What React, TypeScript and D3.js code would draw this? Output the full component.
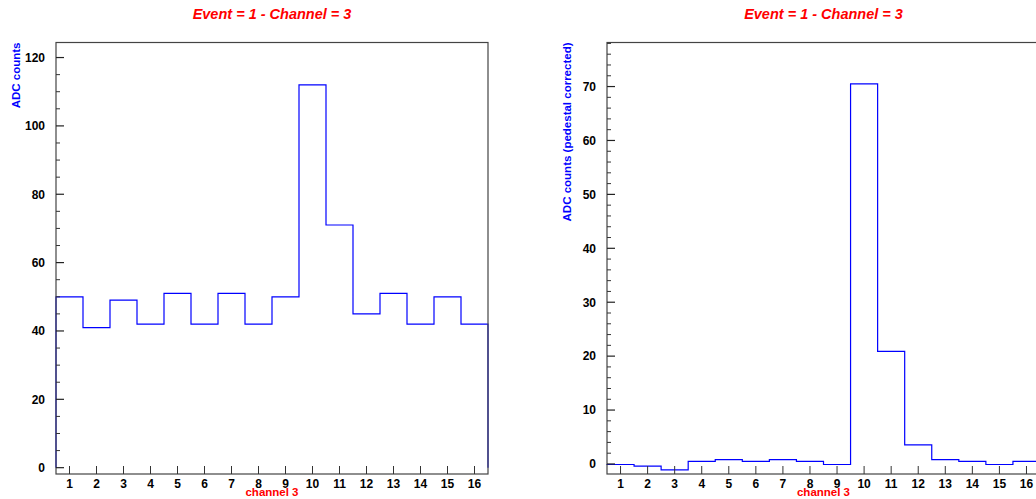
import React from "react";
import * as d3 from "d3";

const channels = [1, 2, 3, 4, 5, 6, 7, 8, 9, 10, 11, 12, 13, 14, 15, 16];
const adcCounts = [50, 41, 49, 42, 51, 42, 51, 42, 50, 112, 71, 45, 51, 42, 50, 42];
const pedCorrected = [-0.1, -0.4, -1.1, 0.5, 0.8, 0.5, 0.8, 0.5, -0.1, 70.5, 20.9, 3.55, 0.8, 0.5, -0.1, 0.5];
const leftYTicks = [0, 20, 40, 60, 80, 100, 120];
const rightYTicks = [0, 10, 20, 30, 40, 50, 60, 70];
const titleText = "Event = 1 - Channel = 3";
const xTitle = "channel 3";
const leftYTitle = "ADC counts";
const rightYTitle = "ADC counts (pedestal corrected)";

const FONT = "'Liberation Sans', Arial, Helvetica, sans-serif";

type PanelProps = {
  x0: number;
  x1: number;
  yTop: number;
  yBottom: number;
  yDomain: [number, number];
  values: number[];
  yTicks: number[];
  minorStep: number;
  yTitle: string;
};

function Panel({ x0, x1, yTop, yBottom, yDomain, values, yTicks, minorStep, yTitle }: PanelProps) {
  const x = d3.scaleLinear().domain([0.5, 16.5]).range([x0, x1]);
  const y = d3.scaleLinear().domain(yDomain).range([yBottom, yTop]);
  const cx = (x0 + x1) / 2;

  // histogram outline
  let path = `M${x(0.5)},${y(0)}`;
  values.forEach((v, i) => {
    path += `V${y(v)}H${x(channels[i] + 0.5)}`;
  });
  path += `V${y(0)}`;

  const minors: number[] = [];
  const start = Math.ceil(yDomain[0] / minorStep) * minorStep;
  for (let v = start; v <= yDomain[1]; v += minorStep) {
    const isMajor = yTicks.some((t) => Math.abs(t - v) < 1e-6);
    if (!isMajor) minors.push(v);
  }

  return (
    <g>
      <text
        x={cx}
        y={18.5}
        textAnchor="middle"
        fill="#ff0000"
        fontFamily={FONT}
        fontWeight="bold"
        fontStyle="italic"
        fontSize={14.5}
      >
        {titleText}
      </text>
      <path d={path} fill="none" stroke="#0000ff" strokeWidth={1.2} />
      <rect
        x={x0}
        y={yTop}
        width={x1 - x0}
        height={yBottom - yTop}
        fill="none"
        stroke="#444"
        strokeWidth={1.2}
      />
      {/* y ticks */}
      {yTicks.map((t) => (
        <g key={"y" + t}>
          <line x1={x0} x2={x0 + 8} y1={y(t)} y2={y(t)} stroke="#222" strokeWidth={1.2} />
          <text
            x={x0 - 11}
            y={y(t)}
            dy="0.36em"
            textAnchor="end"
            fontFamily={FONT}
            fontWeight="bold"
            fontSize={12}
            fill="#000"
          >
            {t}
          </text>
        </g>
      ))}
      {minors.map((t) => (
        <line key={"m" + t} x1={x0} x2={x0 + 4} y1={y(t)} y2={y(t)} stroke="#333" strokeWidth={1} />
      ))}
      {/* x ticks */}
      {channels.map((c) => (
        <g key={"x" + c}>
          <line x1={x(c)} x2={x(c)} y1={yBottom} y2={yBottom - 8} stroke="#333" strokeWidth={1} />
          <text
            x={x(c)}
            y={487.5}
            textAnchor="middle"
            fontFamily={FONT}
            fontWeight="bold"
            fontSize={12}
            fill="#000"
          >
            {c}
          </text>
        </g>
      ))}
      <text
        x={cx}
        y={496}
        textAnchor="middle"
        fill="#ff0000"
        fontFamily={FONT}
        fontWeight="bold"
        fontSize={11.5}
      >
        {xTitle}
      </text>
      <text
        transform={`translate(${x0 - 36.5},${yTop}) rotate(-90)`}
        textAnchor="end"
        fill="#0000ff"
        fontFamily={FONT}
        fontWeight="bold"
        fontSize={11.5}
      >
        {yTitle}
      </text>
    </g>
  );
}

export default function App() {
  return (
    <svg
      width={1036}
      height={499}
      style={{ position: "absolute", left: 0, top: 0, background: "#fff" }}
    >
      <rect x={0} y={0} width={1036} height={499} fill="#fff" />
      <Panel
        x0={56}
        x1={488}
        yTop={42.5}
        yBottom={474}
        yDomain={[-1.85, 124.4]}
        values={adcCounts}
        yTicks={leftYTicks}
        minorStep={5}
        yTitle={leftYTitle}
      />
      <Panel
        x0={607}
        x1={1040}
        yTop={42.5}
        yBottom={474}
        yDomain={[-1.86, 78.17]}
        values={pedCorrected}
        yTicks={rightYTicks}
        minorStep={2}
        yTitle={rightYTitle}
      />
    </svg>
  );
}
